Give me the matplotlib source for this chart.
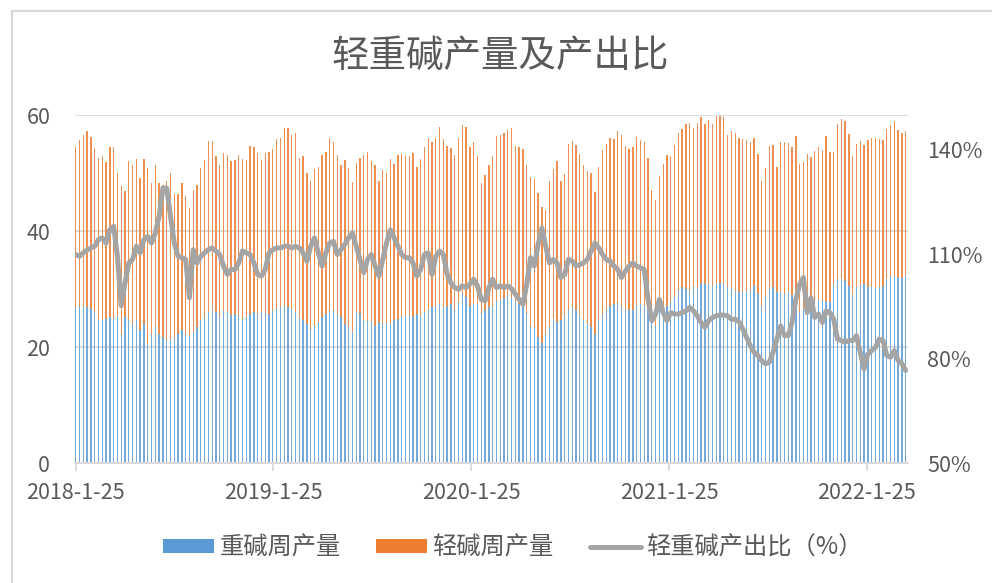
import matplotlib
matplotlib.use("Agg")
import matplotlib.pyplot as plt
from matplotlib.lines import Line2D
from matplotlib.patches import Patch
import pandas as pd

plt.rcParams['font.family'] = ['Noto Sans CJK SC', 'DejaVu Sans']

title = "轻重碱产量及产出比"
series_names = ["重碱周产量", "轻碱周产量", "轻重碱产出比（%）"]
start_date = "2018-01-25"
n_weeks = 220
tick_dates = ["2018-01-25", "2019-01-25", "2020-01-25", "2021-01-25", "2022-01-25"]
tick_labels = ["2018-1-25", "2019-1-25", "2020-1-25", "2021-1-25", "2022-1-25"]
left_ticks = [0, 20, 40, 60]
right_ticks = [50, 80, 110, 140]

heavy = [
    26.9, 27.0, 27.1, 26.9, 26.6, 26.0, 24.6, 24.7, 24.9, 25.1, 24.9, 25.4, 22.3, 25.1, 24.6, 24.0, 24.6, 22.9, 24.0, 20.6,
    22.3, 23.7, 22.3, 21.7, 21.1, 21.4, 21.7, 22.3, 22.9, 22.3, 22.0, 22.6, 23.4, 24.6, 25.1, 26.0, 26.4,
    26.0, 25.1, 26.2, 26.0, 25.6, 25.7, 25.4, 24.9, 25.1, 25.7, 26.0, 25.7, 26.0, 25.8, 25.7, 26.2, 26.6, 26.9, 27.1, 26.9,
    26.6, 26.0, 25.1, 24.6, 24.0, 22.9, 23.7, 24.3, 25.1, 25.7, 26.2, 26.3, 25.7, 25.1, 24.0, 23.4, 22.6,
    26.0, 25.7, 24.7, 24.5, 24.3, 23.7, 24.3, 24.0, 24.3, 24.0, 24.7, 24.9, 25.1, 25.3, 25.4, 25.1, 25.7, 25.4, 26.0, 26.3,
    26.9, 27.1, 27.4, 26.9, 27.1, 27.4, 26.6, 27.7, 29.1, 28.6, 27.1, 27.4, 27.4, 25.7, 26.4, 26.9, 27.1,
    28.0, 28.1, 28.4, 28.9, 28.5, 28.0, 27.5, 26.9, 25.7, 23.7, 23.4, 21.7, 20.7, 22.3, 23.7, 24.9, 24.3, 24.6, 25.4, 26.3,
    26.9, 26.3, 25.4, 24.6, 24.0, 23.4, 22.3, 24.6, 25.7, 26.6, 27.1, 27.4, 27.7, 27.1, 26.6, 26.3, 26.3,
    27.1, 27.4, 27.1, 26.3, 24.6, 23.7, 27.4, 26.9, 27.0, 28.0, 28.6, 29.7, 30.3, 30.0, 29.7, 30.6, 30.2, 31.1, 30.9, 30.9,
    30.6, 30.9, 31.1, 30.9, 30.4, 30.2, 29.7, 29.4, 29.4, 29.7, 30.0, 30.6, 29.1, 27.1, 28.6, 30.0, 30.3,
    29.4, 29.4, 29.1, 29.4, 28.9, 28.0, 26.0, 26.6, 27.7, 28.6, 28.0, 28.1, 28.0, 28.0, 27.7, 30.9, 31.7, 31.7, 31.4, 30.6,
    28.9, 30.3, 30.6, 30.9, 30.4, 30.3, 30.2, 30.4, 30.6, 31.7, 32.0, 32.1, 32.0, 31.9, 32.3,
]

light = [
    27.5, 28.7, 29.4, 30.4, 29.6, 28.3, 28.0, 28.2, 27.0, 29.3, 29.5, 24.6, 25.5, 21.8, 27.4, 27.3, 27.9, 26.2, 28.4, 30.3,
    26.0, 27.6, 26.0, 26.3, 27.5, 28.6, 24.7, 24.0, 25.4, 23.8, 22.0, 24.4, 24.6, 26.3, 27.2, 29.5, 29.1,
    26.9, 26.3, 27.3, 27.1, 26.4, 26.6, 27.7, 27.6, 27.2, 29.0, 28.4, 27.7, 26.3, 27.6, 27.9, 27.9, 29.3, 29.2, 30.6, 30.8,
    30.0, 30.9, 27.5, 28.3, 26.0, 25.7, 27.0, 26.8, 28.0, 28.0, 29.9, 29.0, 27.4, 26.2, 28.3, 27.5, 25.9,
    25.7, 26.9, 28.4, 29.2, 27.7, 27.6, 24.3, 26.5, 25.7, 28.5, 26.8, 28.2, 28.2, 27.6, 27.5, 28.4, 25.4, 27.1, 28.4, 29.7,
    28.4, 28.9, 30.6, 29.0, 27.5, 26.9, 26.5, 28.3, 29.2, 29.3, 27.3, 27.9, 25.5, 22.6, 23.2, 24.5, 25.8,
    28.3, 28.5, 28.5, 28.5, 29.2, 26.6, 26.9, 27.3, 25.6, 25.6, 25.5, 24.9, 23.4, 21.4, 24.9, 25.8, 27.7, 24.1, 24.4, 28.7,
    28.7, 28.6, 27.9, 26.7, 26.4, 26.6, 24.4, 26.5, 28.3, 28.4, 28.9, 28.4, 29.6, 29.5, 28.0, 27.9, 28.1,
    29.1, 28.3, 28.2, 26.3, 22.4, 21.7, 22.0, 24.6, 26.1, 24.9, 26.3, 27.2, 27.3, 28.4, 28.9, 27.1, 28.4, 28.6, 27.5, 28.2,
    27.8, 29.0, 28.8, 28.8, 26.1, 27.1, 27.2, 26.6, 26.4, 26.0, 25.4, 25.4, 24.2, 21.5, 22.3, 24.7, 24.6,
    21.6, 25.9, 26.2, 25.7, 25.5, 28.4, 25.5, 25.3, 25.6, 24.1, 25.8, 26.3, 26.0, 28.3, 25.9, 22.7, 26.7, 27.6, 27.5, 26.1,
    24.0, 24.7, 24.9, 24.0, 25.3, 25.8, 25.8, 25.4, 25.1, 25.9, 26.2, 26.8, 25.4, 25.0, 25.0,
]

ratio = [
    109.9, 109.4, 110.4, 111.2, 111.8, 112.3, 114.2, 114.7, 113.2, 117.0, 118.0, 109.4, 95.2, 101.8, 107.5, 108.5, 112.3,
    110.4, 114.2, 115.1, 113.2, 116.1, 120.9, 129.0, 129.0, 120.9, 113.2, 109.4, 109.0, 108.5, 97.5, 111.3, 107.5, 109.4,
    110.4, 111.3, 111.8,
    110.9, 109.9, 106.6, 104.2, 105.6, 105.6, 107.5, 110.9, 110.4, 109.9, 107.5, 104.2, 103.7, 105.6, 110.4, 111.3, 111.8,
    111.8, 112.3, 112.3, 111.8, 112.3, 111.8, 110.4, 108.0, 112.3, 114.7, 110.4, 106.6, 110.4, 113.2, 113.7, 109.9, 111.3,
    112.8, 114.7, 116.1,
    112.3, 108.5, 104.7, 108.5, 109.9, 106.6, 103.7, 108.5, 113.2, 117.0, 114.7, 112.3, 109.9, 109.0, 109.0, 107.5, 103.7,
    105.6, 109.9, 110.4, 104.2, 109.4, 110.9, 109.9, 104.2, 101.8, 100.4, 99.9, 100.9, 100.4, 101.4, 102.8, 100.9, 97.0,
    96.6, 100.4, 102.8,
    100.4, 100.9, 100.4, 100.9, 100.1, 98.5, 97.0, 95.6, 101.4, 109.0, 106.6, 112.8, 117.5, 112.3, 107.5, 108.5, 107.5,
    103.3, 104.2, 108.5, 108.0, 106.6, 107.0, 107.5, 108.5, 110.9, 113.2, 111.8, 109.9, 108.5, 108.0, 106.6, 105.6, 103.3,
    105.1, 106.6, 107.5,
    106.6, 106.1, 105.6, 97.0, 90.9, 92.8, 97.0, 93.2, 90.9, 93.2, 92.8, 92.8, 93.2, 93.7, 94.7, 93.7, 92.3, 90.4, 89.0,
    90.9, 91.8, 92.3, 92.5, 92.5, 92.3, 91.3, 91.3, 90.6, 88.5, 86.1, 83.7, 81.8, 80.9, 79.4, 78.5, 79.0, 81.8,
    85.6, 89.4, 86.6, 86.6, 90.4, 97.0, 101.3, 103.3, 93.2, 97.5, 91.8, 92.8, 90.4, 93.7, 93.2, 91.3, 85.6, 85.2, 84.7,
    85.2, 85.2, 86.6, 81.8, 77.0, 81.3, 82.3, 83.2, 85.6, 85.2, 80.9, 80.4, 82.3, 79.4, 78.5, 76.6,
]

dates = pd.date_range(start_date, periods=n_weeks, freq="7D")

BLUE = "#5B9BD5"
ORANGE = "#ED7D31"
GRAY = "#A5A5A5"
TXT = "#595959"
GRID = "#D9D9D9"

W, H = 992, 583
fig = plt.figure(figsize=(W / 100, H / 100), dpi=100)

# chart-area border (cropped at right/bottom in the reference)
fig.add_artist(Line2D([11.5 / W, 11.5 / W], [0, 1 - 10.5 / H], color=GRID, lw=1.6, transform=fig.transFigure))
fig.add_artist(Line2D([11.5 / W, 1.0], [1 - 10.5 / H, 1 - 10.5 / H], color=GRID, lw=1.6, transform=fig.transFigure))

ax = fig.add_axes([75.2 / W, (H - 463) / H, 832.7 / W, 348 / H])
ax.bar(dates, heavy, width=2.5, color=BLUE, alpha=0.85, linewidth=0, zorder=2)
ax.bar(dates, light, bottom=heavy, width=2.5, color=ORANGE, alpha=0.85, linewidth=0, zorder=2)

ax.set_ylim(0, 60)
ax.set_yticks(left_ticks)
ax.set_xlim(dates[0] - pd.Timedelta(days=1), dates[-1] + pd.Timedelta(days=4))
ax.set_xticks(pd.to_datetime(tick_dates))
ax.set_xticklabels(tick_labels)
ax.yaxis.grid(True, color=GRID, lw=1.3, zorder=0)
ax.set_axisbelow(True)
for s in ["left", "right", "top"]:
    ax.spines[s].set_visible(False)
ax.spines["bottom"].set_color(GRID)
ax.spines["bottom"].set_linewidth(1.3)
ax.tick_params(axis="x", direction="out", length=6, width=1.3, color=GRID, pad=8,
               labelsize=15.5, labelcolor=TXT)
ax.tick_params(axis="y", length=0, pad=18, labelsize=15.5, labelcolor=TXT)

ax2 = ax.twinx()
ax2.plot(dates, ratio, color=GRAY, lw=3.6, solid_joinstyle="round", solid_capstyle="round", zorder=3)
ax2.set_ylim(50, 150)
ax2.set_yticks(right_ticks)
ax2.set_yticklabels([f"{v}%" for v in right_ticks])
for s in ["left", "right", "top", "bottom"]:
    ax2.spines[s].set_visible(False)
ax2.tick_params(axis="y", length=0, pad=14, labelsize=15.5, labelcolor=TXT)
ax2.set_xlim(ax.get_xlim())

fig.text(500 / W, 1 - 56 / H, title, ha="center", va="center", fontsize=27, color=TXT)

handles = [Patch(facecolor=BLUE, edgecolor="none"),
           Patch(facecolor=ORANGE, edgecolor="none"),
           Line2D([0], [0], color=GRAY, lw=3.6, solid_capstyle="round")]
leg = fig.legend(handles, series_names, loc="center", bbox_to_anchor=(513 / W, 1 - 548 / H),
                 ncol=3, frameon=False, fontsize=17.5, labelcolor=TXT,
                 handlelength=2.1, handleheight=0.5, handletextpad=0.25, columnspacing=1.45)

fig.savefig("out.png", dpi=100)
